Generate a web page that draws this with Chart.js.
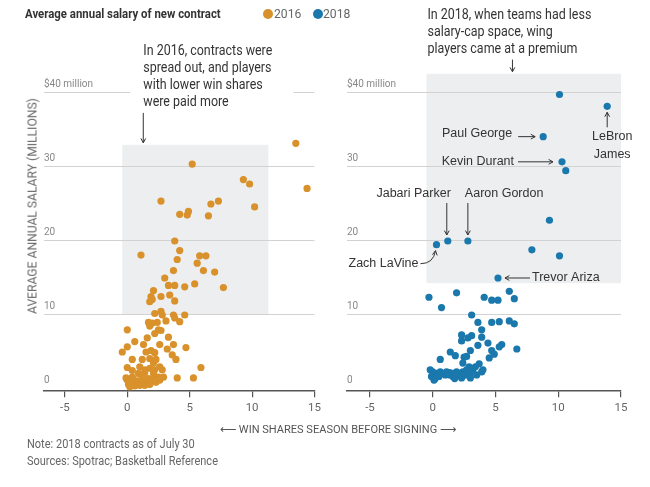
<!DOCTYPE html>
<html>
<head>
<meta charset="utf-8">
<script src="https://cdn.jsdelivr.net/npm/chart.js@4.4.1/dist/chart.umd.min.js"></script>
<style>
  body { margin: 0; background: #fff; }
  #page { position: relative; width: 650px; height: 487px; overflow: hidden;
          font-family: Roboto, 'Liberation Sans', sans-serif; color: #333; }
  canvas { position: absolute; top: 0; }
  #c2016 { left: 0; }
  #c2018 { left: 325px; }
  .txt { position: absolute; white-space: nowrap; transform-origin: 0 50%; }
  #head { left: 25px; top: 5px; font-size: 13.5px; font-weight: bold; color: #333; transform: scaleX(0.845); }
  .leg { top: 5px; font-size: 13.5px; color: #666; transform: scaleX(0.9); }
  .dot { position: absolute; top: 9px; width: 10px; height: 10px; border-radius: 50%; }
  #ytitle { left: 32px; top: 206px; font-size: 12.5px; color: #666; transform-origin: 50% 50%;
            transform: translate(-50%, -50%) rotate(-90deg) scaleX(0.97); }
  #xtitle { left: 338px; top: 429px; font-size: 11.5px; color: #555; transform-origin: 50% 50%;
            transform: translate(-50%, -50%) scaleX(0.96); }
  .foot { left: 27px; font-size: 12.5px; color: #666; transform: scaleX(0.88); }
</style>
</head>
<body>
<div id="page">
  <canvas id="c2016" width="325" height="487"></canvas>
  <canvas id="c2018" width="325" height="487"></canvas>
  <div class="txt" id="head">Average annual salary of new contract</div>
  <div class="dot" style="left:263px;background:#d9912b"></div>
  <div class="txt leg" style="left:274px">2016</div>
  <div class="dot" style="left:313px;background:#1a78ad"></div>
  <div class="txt leg" style="left:323px">2018</div>
  <div class="txt" id="ytitle">AVERAGE ANNUAL SALARY (MILLIONS)</div>
  <div class="txt" id="xtitle">⟵ WIN SHARES SEASON BEFORE SIGNING ⟶</div>
  <div class="txt foot" style="top:436px">Note: 2018 contracts as of July 30</div>
  <div class="txt foot" style="top:453px">Sources: Spotrac; Basketball Reference</div>
</div>
<script>
// ticks
const xTicks = [-5, 0, 5, 10, 15];
const yTicks = [0, 10, 20, 30, 40];
const yTickLabels = ['0', '10', '20', '30', '$40 million'];

// 2016 contracts: win shares season before signing, average annual salary ($M)
const winShares2016 = [13.5, 5.2, 9.3, 9.8, 14.4, 2.7, 6.7, 7.3, 10.2, 4.2, 4.9, 4.8, 6.5,
  3.8, 4.2, 1.1, 4.0, 5.8, 6.3, 5.6, 3.7, 6.1, 7.0, 3.0, 3.3, 3.8, 4.6, 5.4, 7.7, 2.1,
  1.9, 2.7, 3.4, 1.8, 3.8, 2.0, 2.2, 2.7, 2.8, 3.7, 3.8, 4.6, 3.1, 4.2, 1.7, 2.0, 2.4, 1.8,
  0.0, 2.5, 2.7, 2.2, 3.3, 1.6, 0.6, 1.3, 2.6, 3.7, 0.0, 4.7, 3.2, 1.5, 1.9, 2.2, -0.4,
  3.6, 3.9, 0.4, 1.2, 1.8, 2.3, 2.1, 0.0, 0.4, 1.0, 1.4, 1.8, 2.2, 2.6, 2.8, 5.9, 0.9,
  1.4, 2.1, 2.5, 2.9, 4.0, 5.3, 0.0, 0.1, 0.3, 0.5, 0.7, 0.9, 1.1, 1.3, 1.5, 1.7, 1.9,
  2.1, 2.3, 0.2, 0.6, 1.0, 1.4, 1.8, 2.6, 0.4, 1.2, -0.1];
const salary2016 = [33.2, 30.4, 28.3, 27.7, 27.1, 25.4, 25.0, 25.4, 24.6, 23.6, 24.0, 23.5, 23.4,
  20.0, 18.7, 18.1, 17.5, 18.0, 18.0, 17.0, 16.0, 16.0, 15.8, 15.0, 14.0, 14.0, 13.8, 14.2, 13.7, 13.3,
  12.5, 12.5, 12.7, 11.8, 11.9, 12.1, 10.2, 10.5, 10.0, 10.0, 9.6, 10.0, 9.2, 9.1, 9.0, 8.9, 9.0, 8.5,
  8.0, 8.0, 7.9, 7.5, 7.0, 6.9, 6.4, 6.0, 6.0, 6.0, 5.7, 5.6, 5.4, 5.0, 5.2, 4.9, 5.0,
  4.6, 4.0, 4.0, 4.0, 4.1, 4.0, 3.5, 2.9, 2.5, 3.0, 2.6, 2.8, 2.6, 3.0, 2.6, 2.9, 2.1,
  2.2, 2.1, 1.6, 1.6, 1.5, 1.5, 1.2, 0.6, 0.9, 1.3, 0.8, 1.1, 0.7, 1.2, 0.9, 1.4, 1.0,
  1.3, 0.9, 0.3, 0.4, 0.5, 0.5, 0.6, 1.2, 1.6, 1.8, 1.5];

// 2018 contracts
const winShares2018 = [10.1, 13.9, 8.8, 10.3, 10.6, 9.3, 0.3, 1.2, 2.8, 7.9, 10.1, 5.2,
  -0.3, 1.9, 0.7, 4.1, 4.7, 5.2, 6.1, 6.5, 3.1, 3.6, 4.7, 5.3, 6.1, 6.5, 3.9, 2.3, 3.1, 3.9,
  2.8, 2.3, 4.4, 3.6, 5.5, 5.3, 6.7, 3.0, 4.7, 1.4, 1.8, 4.9, 4.5, 2.5, 2.7, 0.6, 2.4, 3.7, 2.9,
  -0.2, 0.0, 0.3, 0.6, 0.8, 1.1, 1.35, 1.6, 1.9, 2.15, 2.4, 2.7, 2.95, 3.2, 3.4, 3.9, 4.0,
  -0.1, 0.2, 0.5, 1.0, 1.35, 1.6, 1.75, 2.15, 2.4, 2.7, 2.95, 3.5, 2.3, 3.0, 0.1];
const salary2018 = [39.8, 38.2, 34.1, 30.7, 29.5, 22.8, 19.5, 20.0, 20.0, 18.8, 18.0, 15.0,
  12.4, 13.0, 11.0, 12.4, 12.0, 12.0, 13.2, 12.2, 10.0, 9.0, 9.0, 9.1, 9.2, 8.8, 8.0, 7.3, 7.2, 7.0,
  6.9, 6.5, 6.2, 5.9, 6.0, 5.7, 5.4, 5.2, 5.2, 5.0, 4.5, 4.7, 4.2, 4.3, 4.4, 4.0, 3.5, 3.4, 3.0,
  2.6, 2.3, 2.1, 2.3, 2.1, 2.3, 2.2, 2.1, 2.3, 2.1, 2.3, 2.6, 2.1, 2.6, 3.0, 2.3, 2.6,
  1.7, 1.4, 1.7, 1.9, 1.9, 1.7, 1.4, 1.9, 1.8, 1.9, 2.0, 1.9, 1.5, 1.5, 1.2];
const players2018 = ['', 'LeBron James', 'Paul George', 'Kevin Durant', '', '', 'Zach LaVine',
  'Jabari Parker', 'Aaron Gordon', '', '', 'Trevor Ariza'];

// shaded ranges (win shares, salary)
const shade2016 = { x: [-0.4, 11.3], y: [10, 33] };
const shade2018 = { x: [-0.5, 15], y: [14.3, 42.6] };

const FONT = "Roboto, 'Liberation Sans', sans-serif";
const LABEL_FONT = "12.5px 'Liberation Sans', Arial, sans-serif";
const ORANGE = '#d9912b';
const BLUE = '#1a78ad';

function arrow(ctx, x1, y1, x2, y2, cx, cy) {
  ctx.save();
  ctx.strokeStyle = '#333';
  ctx.lineWidth = 1;
  ctx.beginPath();
  ctx.moveTo(x1, y1);
  if (cx !== undefined) ctx.quadraticCurveTo(cx, cy, x2, y2);
  else ctx.lineTo(x2, y2);
  ctx.stroke();
  const fx = cx !== undefined ? cx : x1, fy = cy !== undefined ? cy : y1;
  const a = Math.atan2(y2 - fy, x2 - fx);
  ctx.beginPath();
  ctx.moveTo(x2 - 5 * Math.cos(a - 0.5), y2 - 5 * Math.sin(a - 0.5));
  ctx.lineTo(x2, y2);
  ctx.lineTo(x2 - 5 * Math.cos(a + 0.5), y2 - 5 * Math.sin(a + 0.5));
  ctx.stroke();
  ctx.restore();
}

const shadePlugin = {
  id: 'shade',
  beforeDraw(chart, args, opts) {
    const { ctx, scales: { x, y } } = chart;
    const x0 = x.getPixelForValue(opts.x[0]), x1 = x.getPixelForValue(opts.x[1]);
    const y0 = y.getPixelForValue(opts.y[1]), y1 = y.getPixelForValue(opts.y[0]);
    ctx.save();
    ctx.fillStyle = '#eceef0';
    ctx.fillRect(x0, y0, x1 - x0, y1 - y0);
    ctx.restore();
  }
};

const notePlugin = {
  id: 'note',
  afterDraw(chart, args, opts) {
    const { ctx, scales: { x, y } } = chart;
    const bx = x.getPixelForValue(opts.shade.x[0]);
    const by = y.getPixelForValue(opts.shade.y[1]);
    const tx = bx + opts.dx;
    ctx.save();
    if (opts.clear) {
      ctx.fillStyle = '#fff';
      ctx.fillRect(tx - 13, opts.top - 12, 163, opts.lines.length * 17.3 + 8);
    }
    ctx.translate(tx, 0);
    ctx.scale(0.89, 1);
    ctx.font = '14px ' + FONT;
    ctx.textBaseline = 'middle';
    ctx.fillStyle = '#333';
    opts.lines.forEach((l, i) => ctx.fillText(l, 0, opts.top + i * 17.3));
    ctx.restore();
    arrow(ctx, bx + opts.ax, opts.top + (opts.lines.length - 1) * 17.3 + 10, bx + opts.ax, by - 2);

    // player call-outs
    if (!opts.players) return;
    const place = {
      'Paul George': { align: 'right', dx: -31, dy: -3, a: [-25, 0, -8, 0] },
      'Kevin Durant': { align: 'right', dx: -48, dy: 0, a: [-44, 0, -9, 0] },
      'LeBron James': { align: 'center', dx: 5, dy: 30, a: [0, 21, 0, 6], lines: ['LeBron', 'James'] },
      'Jabari Parker': { align: 'right', dx: 3, dy: -47, a: [-1, -38, -1, -6] },
      'Aaron Gordon': { align: 'left', dx: -3, dy: -47, a: [0, -38, 0, -6] },
      'Zach LaVine': { align: 'right', dx: -18, dy: 19, curve: true },
      'Trevor Ariza': { align: 'left', dx: 34, dy: 0, a: [32, 0, 7, 0] }
    };
    const meta = chart.getDatasetMeta(0);
    opts.players.forEach((name, i) => {
      if (!name) return;
      const p = meta.data[i], s = place[name];
      ctx.save();
      ctx.font = LABEL_FONT;
      ctx.fillStyle = '#333';
      ctx.textAlign = s.align;
      ctx.textBaseline = 'middle';
      (s.lines || [name]).forEach((l, k) => ctx.fillText(l, p.x + s.dx, p.y + s.dy + k * 18));
      ctx.restore();
      if (s.curve) arrow(ctx, p.x - 16, p.y + 19, p.x - 1, p.y + 6, p.x - 3, p.y + 19);
      else arrow(ctx, p.x + s.a[0], p.y + s.a[1], p.x + s.a[2], p.y + s.a[3]);
    });
  }
};

function makeChart(id, xs, ys, color, xMin, padL, padR, shade, note) {
  return new Chart(document.getElementById(id), {
    type: 'scatter',
    data: {
      datasets: [{
        data: xs.map((v, i) => ({ x: v, y: ys[i] })),
        backgroundColor: color,
        borderWidth: 0,
        pointRadius: 3.6,
        pointHoverRadius: 3.6
      }]
    },
    options: {
      responsive: false,
      animation: false,
      events: [],
      layout: { padding: { left: padL, right: padR, top: 48.6, bottom: 65.8 } },
      plugins: { legend: { display: false }, tooltip: { enabled: false }, shade: shade, note: note },
      scales: {
        x: {
          type: 'linear', min: xMin, max: 15,
          afterBuildTicks: s => { s.ticks = xTicks.map(v => ({ value: v })); },
          afterFit: s => { s.height = 30; },
          grid: { drawOnChartArea: false, drawTicks: true, tickLength: 6, color: '#555', lineWidth: 1.2 },
          border: { display: true, color: '#555', width: 1.5 },
          ticks: { color: '#666', padding: 4, font: { size: 11.5, family: FONT }, maxRotation: 0, autoSkip: false }
        },
        y: {
          min: -0.3, max: 46,
          afterBuildTicks: s => { s.ticks = yTicks.map(v => ({ value: v })); },
          afterFit: s => { s.width = 0; },
          border: { display: false },
          grid: { drawTicks: false, color: c => (c.tick && c.tick.value === 0) ? 'rgba(0,0,0,0)' : '#d2d2d2' },
          ticks: { mirror: true, padding: 0, labelOffset: -8, color: '#888', font: { size: 10, family: FONT },
                   callback: v => yTickLabels[yTicks.indexOf(v)] }
        }
      }
    },
    plugins: [shadePlugin, notePlugin]
  });
}

makeChart('c2016', winShares2016, salary2016, ORANGE, -6.67, 44, 9, shade2016, {
  shade: shade2016, dx: 21, ax: 21, top: 51, clear: true,
  lines: ['In 2016, contracts were', 'spread out, and players', 'with lower win shares', 'were paid more']
});
makeChart('c2018', winShares2018, salary2018, BLUE, -6.83, 22, 29, shade2018, {
  shade: shade2018, dx: 1, ax: 86, top: 15,
  lines: ['In 2018, when teams had less', 'salary-cap space, wing', 'players came at a premium'],
  players: players2018
});
</script>
</body>
</html>
